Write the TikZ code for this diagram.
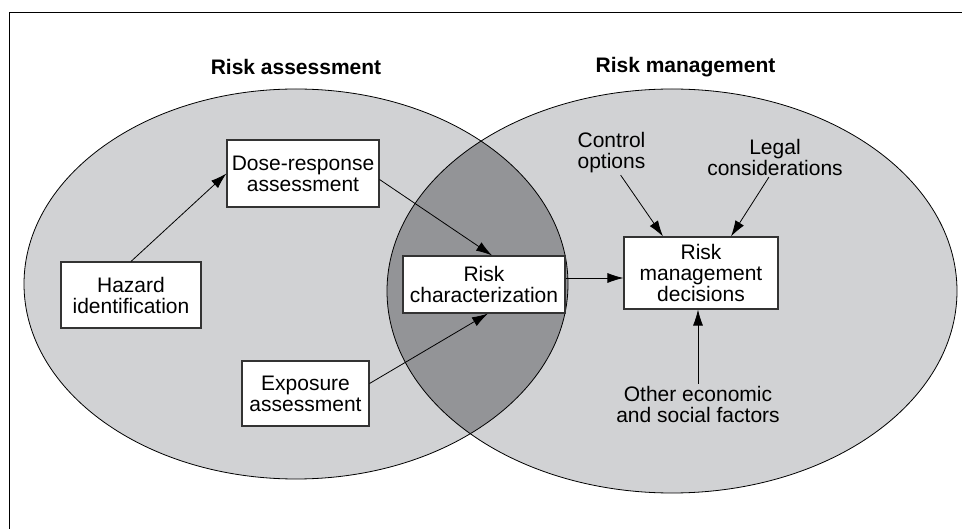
\documentclass[tikz,border=0pt]{standalone}
\usepackage{fontspec}
\setmainfont{Liberation Sans}
\usetikzlibrary{arrows.meta}
\definecolor{grisclaro}{HTML}{D1D2D4}
\definecolor{grisoscuro}{HTML}{939497}

\begin{document}
\begin{tikzpicture}[x=1pt, y=-1pt, >={Latex[length=16pt,width=10pt]},
    every node/.style={font=\fontsize{21}{21}\selectfont},
    caja/.style={draw=black!80, fill=white, line width=1.1pt, align=center, inner sep=0pt},
    rotulo/.style={align=center, inner sep=0pt},
    flecha/.style={->, line width=0.8pt}]
    \useasboundingbox (0,0) rectangle (962,529);
    \draw[line width=1pt] (9,529) -- (9,13) -- (962,13);
    % the two sets and their overlap
    \fill[grisclaro] (296,284) ellipse (272 and 195);
    \fill[grisclaro] (672,291) ellipse (285 and 202);
    \begin{scope}
      \clip (296,284) ellipse (272 and 195);
      \fill[grisoscuro] (672,291) ellipse (285 and 202);
    \end{scope}
    \draw[line width=0.8pt] (296,284) ellipse (272 and 195);
    \draw[line width=0.8pt] (672,291) ellipse (285 and 202);
    \node[rotulo, font=\fontsize{21}{21}\selectfont\bfseries] (evaluacion) at (296,67) {Risk assessment};
    \node[rotulo, font=\fontsize{21}{21}\selectfont\bfseries] (gestion) at (685.5,67) {Risk management};
    % boxes
    \node[caja, minimum width=152pt, minimum height=67pt] (dosis) at (303,173.5) {Dose-response\\assessment};
    \node[caja, minimum width=140pt, minimum height=66pt] (peligro) at (131,295) {Hazard\\identification};
    \node[caja, minimum width=127pt, minimum height=65pt] (exposicion) at (305.5,393.5) {Exposure\\assessment};
    \node[caja, minimum width=162pt, minimum height=57pt] (caract) at (484,284.5) {Risk\\characterization};
    \node[caja, minimum width=154pt, minimum height=72pt] (decision) at (701,273) {Risk\\management\\decisions};
    \node[rotulo] (control) at (611.5,153) {Control\\options};
    \node[rotulo] (legal) at (775,157) {Legal\\considerations};
    \node[rotulo] (otros) at (698,404) {Other economic\\and social factors};
    % arrows
    \draw[flecha] (peligro.north) -- (dosis.west);
    \draw[flecha] ([yshift=-6pt]dosis.east) -- ([xshift=8pt]caract.north);
    \draw[flecha] ([yshift=10pt]exposicion.east) -- ([xshift=4pt]caract.south);
    \draw[flecha] ([yshift=6.5pt]caract.east) -- ([yshift=6.5pt]caract.east -| decision.west);
    \draw[flecha, shorten <=2pt] ([xshift=8pt]control.south) -- ([xshift=-38pt]decision.north);
    \draw[flecha, shorten <=2pt] ([xshift=-5pt]legal.south) -- ([xshift=30pt]decision.north);
    \draw[flecha, shorten <=2pt] (otros.north) -- (otros.north |- decision.south);
\end{tikzpicture}
\end{document}
